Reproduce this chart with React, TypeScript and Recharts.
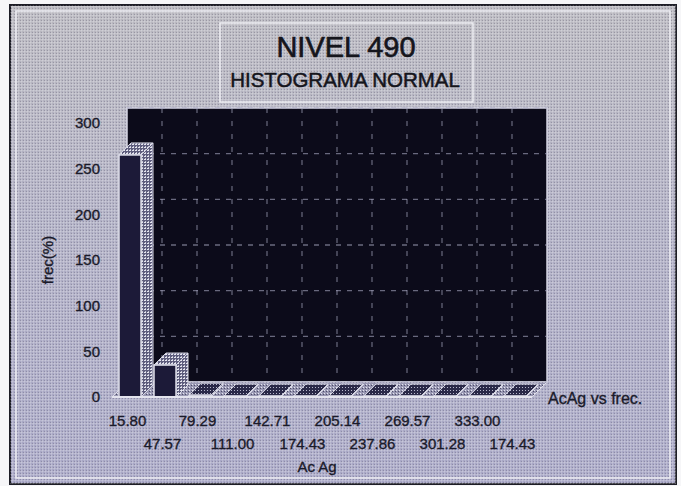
import React from 'react';
import { BarChart, Bar, XAxis, YAxis, CartesianGrid } from 'recharts';

// ---- data ----
const categories = ['15.80', '47.57', '79.29', '111.00', '142.71', '174.43', '205.14', '237.86', '269.57', '301.28', '333.00', '174.43'];
const frequencies = [265, 35, 2, 1, 1, 1, 1, 1, 1, 1, 1, 1];
const yTicks = [0, 50, 100, 150, 200, 250, 300];
const titleText = 'NIVEL 490';
const subtitleText = 'HISTOGRAMA NORMAL';
const xLabelText = 'Ac Ag';
const yLabelText = 'frec(%)';
const legendText = 'AcAg vs frec.';

const data = categories.map((c, i) => ({ idx: i, label: c, frec: frequencies[i] }));

// ---- layout ----
const W = 681;
const H = 486;
const PLOT_LEFT = 112;
const PLOT_RIGHT = 532;
const PLOT_TOP = 123;
const PLOT_BOTTOM = 397;
const Y_AXIS_W = 56;
const X_AXIS_H = 60;
const WALL_D = 15; // depth of the back wall
const BAR_D = 12; // depth of 3D bars
const FONT = 'Liberation Sans, Arial, Helvetica, sans-serif';
const TEXT = '#1a1a2a';
const TEXT_STROKE = { stroke: '#1a1a2a', strokeWidth: 0.35 };

const Bar3D = (props: any) => {
  const { x, y, width, height } = props;
  if (width == null || height == null) return null;
  const d = BAR_D;
  const tall = height > 5;
  const side = `${x + width},${y} ${x + width + d},${y - d} ${x + width + d},${y + height - d} ${x + width},${y + height}`;
  const top = `${x},${y} ${x + d},${y - d} ${x + width + d},${y - d} ${x + width},${y}`;
  return (
    <g>
      <polygon points={side} fill="url(#barTex)" stroke="#d9d9e6" strokeWidth={1} />
      <polygon points={top} fill={tall ? 'url(#barTex)' : 'url(#slabTex)'} stroke="#d9d9e6" strokeWidth={1} />
      <rect x={x} y={y} width={width} height={height} fill="#1c1a38" stroke="#dedeea" strokeWidth={1.5} />
    </g>
  );
};

const XTick = (props: any) => {
  const { x, y, payload, index } = props;
  const i = typeof index === 'number' ? index : payload.index;
  const dy = i % 2 === 0 ? 24 : 47;
  return (
    <text x={x - 2} y={y + dy} dy="0.35em" textAnchor="middle" fontSize={15} fontFamily={FONT} fill={TEXT} {...TEXT_STROKE}>
      {categories[payload.value]}
    </text>
  );
};

const GridH = (p: any) => (
  <line
    key={p.key}
    x1={p.x1 + WALL_D}
    x2={p.x2 + WALL_D}
    y1={p.y1 - WALL_D}
    y2={p.y2 - WALL_D}
    stroke="#a9a9c2"
    strokeWidth={1.3}
    strokeDasharray="5 6"
    strokeOpacity={0.6}
  />
);
const GridV = (p: any) => (
  <line
    key={p.key}
    x1={p.x1 + WALL_D}
    x2={p.x2 + WALL_D}
    y1={p.y1 - WALL_D}
    y2={p.y2 - WALL_D}
    stroke="#a9a9c2"
    strokeWidth={1.3}
    strokeDasharray="5 8"
    strokeOpacity={0.55}
  />
);

const verticalGen = ({ offset }: any) => {
  const n = categories.length;
  const band = offset.width / n;
  const out: number[] = [];
  for (let k = 1; k < n; k++) out.push(offset.left + k * band);
  return out;
};

export default function App() {
  const wallX = PLOT_LEFT + WALL_D;
  const wallY = PLOT_TOP - WALL_D;
  const wallW = PLOT_RIGHT - PLOT_LEFT;
  const wallH = PLOT_BOTTOM - PLOT_TOP;
  const floor = `${PLOT_LEFT},${PLOT_BOTTOM} ${PLOT_LEFT + WALL_D},${PLOT_BOTTOM - WALL_D} ${PLOT_RIGHT + WALL_D},${PLOT_BOTTOM - WALL_D} ${PLOT_RIGHT},${PLOT_BOTTOM}`;
  return (
    <div style={{ position: 'absolute', left: 0, top: 0, width: W, height: H, background: '#f6f6f8' }}>
      <svg width={W} height={H} style={{ position: 'absolute', left: 0, top: 0 }}>
        <defs>
          <linearGradient id="bgGrad" x1="0" y1="0" x2="0" y2="1">
            <stop offset="0%" stopColor="#b9b8bf" />
            <stop offset="45%" stopColor="#afaec3" />
            <stop offset="100%" stopColor="#a8a7c6" />
          </linearGradient>
          <pattern id="halftone" width="3" height="3" patternUnits="userSpaceOnUse">
            <rect x="0" y="0" width="3" height="1" fill="#ffffff" fillOpacity="0.18" />
            <rect x="0" y="0" width="1" height="3" fill="#ffffff" fillOpacity="0.18" />
            <rect x="2" y="2" width="1" height="1" fill="#3a3850" fillOpacity="0.25" />
          </pattern>
          <pattern id="barTex" width="3" height="3" patternUnits="userSpaceOnUse">
            <rect x="0" y="0" width="3" height="3" fill="#5f5e7e" />
            <rect x="0" y="0" width="2" height="1" fill="#e6e6f0" />
            <rect x="1" y="2" width="1" height="1" fill="#c9c9d8" />
          </pattern>
          <pattern id="slabTex" width="3" height="3" patternUnits="userSpaceOnUse">
            <rect x="0" y="0" width="3" height="3" fill="#2a2948" />
            <rect x="0" y="0" width="1" height="1" fill="#b8b8cc" />
          </pattern>
          <pattern id="floorTex" width="3" height="3" patternUnits="userSpaceOnUse">
            <rect x="0" y="0" width="3" height="3" fill="#9897b2" />
            <rect x="0" y="0" width="1" height="1" fill="#e4e4ee" />
            <rect x="2" y="1" width="1" height="1" fill="#4e4d6a" />
          </pattern>
        </defs>
        <rect x={10} y={5} width={666} height={479} fill="url(#bgGrad)" stroke="#1d1d26" strokeWidth={2} />
        <rect x={10} y={5} width={666} height={479} fill="url(#halftone)" />
        <rect x={16} y={11} width={654} height={467} fill="none" stroke="#ececf2" strokeWidth={1.5} />
        <rect x={220} y={23} width={253} height={79} fill="none" stroke="#ededf2" strokeWidth={1.5} />
        <text x={346} y={57} textAnchor="middle" fontSize={29} fontFamily={FONT} fill="#15151c" stroke="#15151c" strokeWidth={0.6}>
          {titleText}
        </text>
        <text x={345} y={87} textAnchor="middle" fontSize={20.5} fontFamily={FONT} fill="#15151c" stroke="#15151c" strokeWidth={0.5}>
          {subtitleText}
        </text>
        <rect x={wallX} y={wallY} width={wallW} height={wallH} fill="#0c0b1a" stroke="#d4d4e2" strokeWidth={1.5} />
        <polygon points={floor} fill="url(#floorTex)" stroke="#dcdce8" strokeWidth={1} />
        <text x={548} y={404} fontSize={16} fontFamily={FONT} fill={TEXT} {...TEXT_STROKE}>
          {legendText}
        </text>
      </svg>
      <div style={{ position: 'absolute', left: 0, top: 0 }}>
        <BarChart
          width={W}
          height={H}
          data={data}
          margin={{ top: PLOT_TOP, right: W - PLOT_RIGHT, bottom: H - PLOT_BOTTOM - X_AXIS_H, left: PLOT_LEFT - Y_AXIS_W }}
        >
          <CartesianGrid
            fill="none"
            horizontal={GridH}
            vertical={GridV}
            verticalCoordinatesGenerator={verticalGen}
          />
          <XAxis
            dataKey="idx"
            type="category"
            height={X_AXIS_H}
            interval={0}
            tickLine={false}
            tickSize={0}
            tickMargin={0}
            axisLine={{ stroke: '#e4e4ee', strokeWidth: 2 }}
            tick={<XTick />}
            label={{
              value: xLabelText,
              content: (lp: any) => {
                const vb = lp.viewBox || {};
                return (
                  <text x={vb.x + vb.width / 2 - 5} y={vb.y + 70} dy="0.35em" textAnchor="middle" fontSize={15} fontFamily={FONT} fill={TEXT} {...TEXT_STROKE}>
                    {xLabelText}
                  </text>
                );
              },
            }}
          />
          <YAxis
            width={Y_AXIS_W}
            domain={[0, 300]}
            ticks={yTicks}
            interval={0}
            tickLine={false}
            axisLine={false}
            tickSize={6}
            tickMargin={6}
            tick={{ fill: TEXT, fontSize: 15, fontFamily: FONT, stroke: TEXT, strokeWidth: 0.35 }}
            label={{
              value: yLabelText,
              content: (lp: any) => {
                const vb = lp.viewBox || {};
                const cx = vb.x - 8;
                const cy = vb.y + vb.height / 2;
                return (
                  <text x={cx} y={cy} dy="0.35em" textAnchor="middle" fontSize={15} fontFamily={FONT} fill={TEXT} {...TEXT_STROKE} transform={`rotate(-90, ${cx}, ${cy})`}>
                    {yLabelText}
                  </text>
                );
              },
            }}
          />
          <Bar dataKey="frec" barSize={22} shape={Bar3D} isAnimationActive={false} />
        </BarChart>
      </div>
    </div>
  );
}
